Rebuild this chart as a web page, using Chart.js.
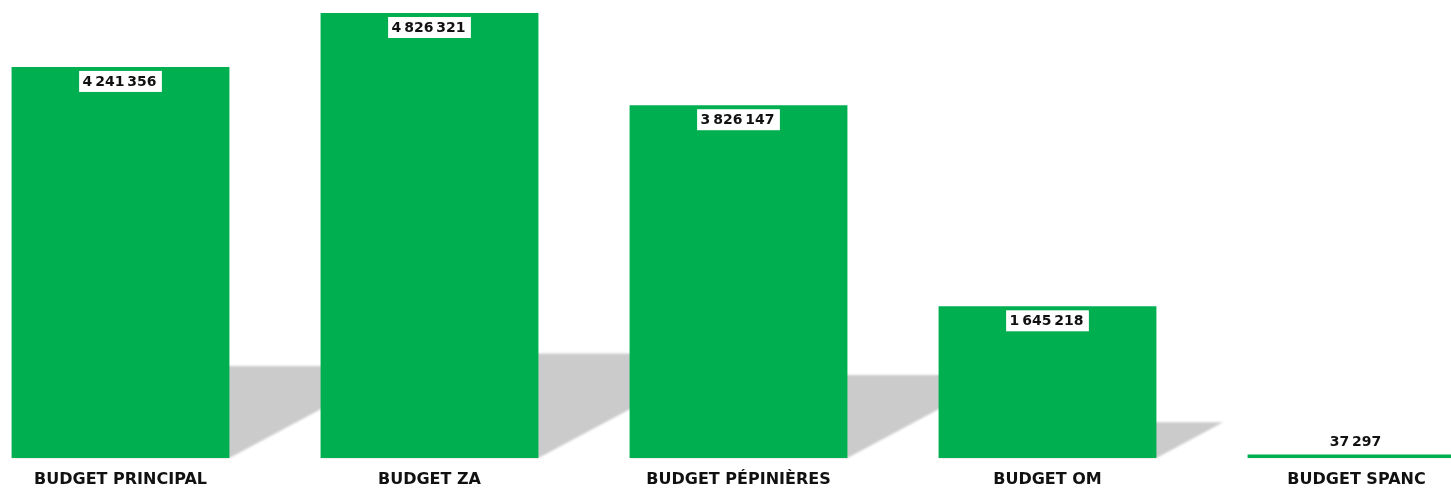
<!DOCTYPE html>
<html>
<head>
<meta charset="utf-8">
<script src="https://cdn.jsdelivr.net/npm/chart.js@4/dist/chart.umd.min.js"></script>
<style>
  html, body { margin: 0; padding: 0; background: #fff; overflow: hidden; }
  #wrap { position: absolute; left: -34px; top: 0; width: 1545px; height: 489px; }
</style>
</head>
<body>
<div id="wrap"><canvas id="mygraph"></canvas></div>
<script>
const categories = ["BUDGET PRINCIPAL", "BUDGET ZA", "BUDGET PÉPINIÈRES", "BUDGET OM", "BUDGET SPANC"];
const montants = [4241356, 4826321, 3826147, 1645218, 37297];

const VERT = "#00AF50";

function fmt(v) {
  return String(v).replace(/\B(?=(\d{3})+(?!\d))/g, "\u2009");
}

// ombre portée grise à droite de chaque barre
const ombres = {
  id: "ombres",
  beforeDatasetsDraw(chart) {
    const ctx = chart.ctx;
    const bars = chart.getDatasetMeta(0).data;
    ctx.save();
    ctx.fillStyle = "#cbcbcb";
    ctx.filter = "blur(1.2px)";
    bars.forEach(b => {
      const h = b.base - b.y;
      const x0 = b.x - b.width / 2, x1 = b.x + b.width / 2;
      const dx = 0.44 * h, dy = 0.235 * h;
      ctx.beginPath();
      ctx.moveTo(x0, b.base);
      ctx.lineTo(x1, b.base);
      ctx.lineTo(x1 + dx, b.base - dy);
      ctx.lineTo(x0 + dx, b.base - dy);
      ctx.closePath();
      ctx.fill();
    });
    ctx.restore();
  }
};

// étiquettes de valeurs dans un cadre blanc
const etiquettes = {
  id: "etiquettes",
  afterDatasetsDraw(chart) {
    const ctx = chart.ctx;
    const bars = chart.getDatasetMeta(0).data;
    ctx.save();
    ctx.font = "bold 14px 'DejaVu Sans'";
    ctx.textAlign = "center";
    ctx.textBaseline = "middle";
    bars.forEach((b, i) => {
      const txt = fmt(montants[i]);
      const w = ctx.measureText(txt).width + 9;
      const h = b.base - b.y;
      let cy;
      if (h > 30) {
        cy = b.y + 4 + 11;
        ctx.fillStyle = "#fff";
        ctx.fillRect(b.x - w / 2, b.y + 4, w, 21);
      } else {
        cy = b.y - 12;
      }
      ctx.fillStyle = "#111";
      ctx.fillText(txt, b.x - 1, cy);
    });
    ctx.restore();
  }
};

const data = {
  labels: categories,
  datasets: [{
    label: "Budgets",
    data: montants,
    backgroundColor: VERT,
    borderWidth: 0,
    categoryPercentage: 1,
    barPercentage: 0.705
  }]
};

const config = {
  type: "bar",
  data,
  options: {
    responsive: true,
    maintainAspectRatio: false,
    animation: false,
    layout: { padding: 0 },
    plugins: {
      legend: { display: false },
      tooltip: { enabled: false }
    },
    scales: {
      y: {
        display: false,
        min: 0,
        max: 4967300
      },
      x: {
        grid: { display: false, drawTicks: false },
        border: { display: false },
        ticks: {
          color: "#111",
          padding: 12,
          font: { family: "'DejaVu Sans'", weight: "bold", size: 16 }
        },
        afterFit(scale) { scale.height = 31; }
      }
    }
  },
  plugins: [ombres, etiquettes]
};

const mygraph = new Chart(document.getElementById("mygraph"), config);
</script>
</body>
</html>
